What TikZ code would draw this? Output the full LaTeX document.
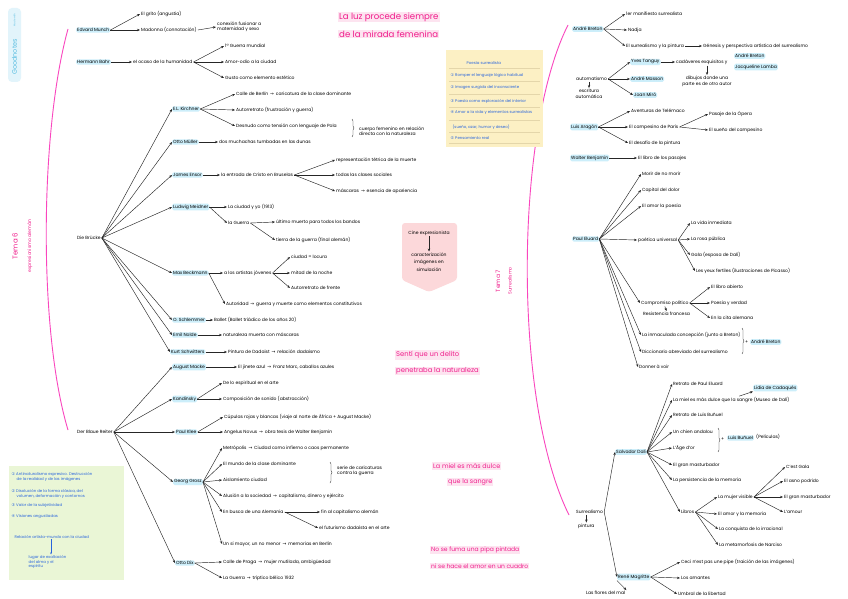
\documentclass[tikz,border=0pt]{standalone}
\usepackage{fontspec}
\setmainfont{Poppins}
\newfontfamily\symf{DejaVu Sans}
\usetikzlibrary{arrows.meta,decorations.pathreplacing}

\definecolor{hlblue}{RGB}{204,238,250}
\definecolor{pinkt}{RGB}{240,30,140}
\definecolor{pinkln}{RGB}{250,70,190}
\definecolor{pinkhl}{RGB}{253,228,240}
\definecolor{notebl}{RGB}{40,100,220}
\definecolor{yellowbox}{RGB}{252,240,196}
\definecolor{greenbox}{RGB}{234,246,214}
\definecolor{pinkbox}{RGB}{252,216,218}
\definecolor{goodbl}{RGB}{90,190,225}
\definecolor{goodbg}{RGB}{226,244,251}
\definecolor{ruleln}{RGB}{228,214,170}

\newcommand{\fs}{\fontsize{4.5}{5.5}\selectfont}
\newcommand{\tto}{{\symf\,→\,}}
\newcommand{\cn}[1]{{\symf #1}}

\tikzset{
  txt/.style={font=\fs, anchor=west, inner sep=1pt, align=left},
  hl/.style={txt, fill=hlblue, rounded corners=1.5pt},
  arr/.style={-{Stealth[length=3pt,width=2.4pt]}, black!85, line width=.45pt},
  quote/.style={text=pinkt, fill=pinkhl, anchor=west, inner sep=1pt},
  note/.style={font=\fontsize{3.9}{4.8}\selectfont, text=notebl, anchor=west, inner sep=.5pt, align=left},
  brc/.style={decorate, decoration={brace, amplitude=2pt}, black!85, line width=.4pt},
  tema/.style={text=pinkt, rotate=90, inner sep=0pt}
}

\begin{document}
\begin{tikzpicture}[x=1pt,y=-1pt]
\useasboundingbox (0,0) rectangle (848,599);
\fill[white] (0,0) rectangle (848,599);

% goodnotes badge
\fill[goodbg, rounded corners=4pt] (8,8) rectangle (21,82);
\node[rotate=90, text=goodbl, font=\fontsize{2.4}{3}\selectfont] (madewith) at (14.5,20) {Made with};
\node[rotate=90, text=goodbl, font=\fontsize{6.5}{7}\selectfont] (goodn) at (14.5,57) {Goodnotes};

% the two themes
\draw[pinkln, line width=.9pt] (68,29) .. controls (40,130) and (38,330) .. (68,430);
\draw[pinkln, line width=.9pt] (568,25) .. controls (515,130) and (512,400) .. (569,515);
\node[tema, font=\fontsize{7}{8}\selectfont] (tema6) at (15,246) {Tema 6};
\node[tema, font=\fontsize{4.6}{5}\selectfont] (expr) at (30,246) {expresionismo alemán};
\node[tema, font=\fontsize{6}{7}\selectfont] (tema7) at (498,281) {Tema 7};
\node[tema, font=\fontsize{4.6}{5}\selectfont] (surrt) at (510,281) {Surrealismo};

% quotes
\node[quote, font=\fontsize{8.6}{9}\selectfont] (luz1) at (338,17) {La luz procede siempre};
\node[quote, font=\fontsize{8.6}{9}\selectfont] (luz2) at (338,34) {de la mirada femenina};
\node[quote, font=\fontsize{6.8}{8}\selectfont] (delito1) at (395,355) {Sentí que un delito};
\node[quote, font=\fontsize{6.8}{8}\selectfont] (delito2) at (395,371) {penetraba la naturaleza};
\node[quote, font=\fontsize{6.4}{8}\selectfont] (miel1) at (432,466) {La miel es más dulce};
\node[quote, font=\fontsize{6.4}{8}\selectfont] (miel2) at (447,482) {que la sangre};
\node[quote, font=\fontsize{6}{7}\selectfont] (pipa1) at (430,550) {No se fuma una pipa pintada};
\node[quote, font=\fontsize{6}{7}\selectfont] (pipa2) at (430,566) {ni se hace el amor en un cuadro};

% Tema 6: Munch and Bahr
\node[hl] (munch) at (76,30) {Edvard Munch};
\node[txt] (grito) at (140,14) {El grito (angustia)};
\node[txt] (madonna) at (140,30) {Madonna (connotación)};
\node[txt] (madonna2) at (216,27) {conexión fusionar a\\maternidad y sexo};
\draw[arr] (munch.east) -- (grito.west);
\draw[arr] (munch.east) -- (madonna.west);
\draw[arr] (madonna.east) -- (madonna2.west);

\node[hl] (bahr) at (76,62) {Hermann Bahr};
\node[txt] (ocaso) at (132,62) {el ocaso de la humanidad};
\node[txt] (guerra1) at (224,46) {1ª Guerra mundial};
\node[txt] (odio) at (224,62) {Amor-odio a la ciudad};
\node[txt] (gusto) at (224,78) {Gusto como elemento estético};
\draw[arr] (bahr.east) -- (ocaso.west);
\foreach \c in {guerra1,odio,gusto} \draw[arr] (ocaso.east) -- (\c.west);

% Die Brücke
\node[txt] (brucke) at (76,238) {Die Brücke};
\node[hl] (kirchner) at (172,109) {E.L. Kirchner};
\node[hl] (muller) at (172,142) {Otto Müller};
\node[hl] (ensor) at (172,175) {James Ensor};
\node[hl] (grosz) at (172,207) {Ludwig Meidner};
\node[hl] (gert) at (172,273) {Max Beckmann};
\node[hl] (schlemmer) at (172,320) {O. Schlemmer};
\node[hl] (nolde) at (172,335) {Emil Nolde};
\node[hl] (schwitters) at (170,352) {Kurt Schwitters};
\foreach \c in {kirchner,muller,ensor,grosz,gert,schlemmer,nolde,schwitters}
  \draw[arr] (brucke.east) -- (\c.west);

\node[txt] (berlin) at (235,94) {Calle de Berlín \tto{} caricatura de la clase dominante};
\node[txt] (autorr) at (235,110) {Autorretrato (frustración y guerra)};
\node[txt] (desnudo) at (235,126) {Desnudo como tensión con lenguaje de Pola};
\foreach \c in {berlin,autorr,desnudo} \draw[arr] (kirchner.east) -- (\c.west);
\draw[brc] (352,119) -- (352,137);
\node[txt] (cuerpo) at (358,131) {cuerpo femenino en relación\\directa con la naturaleza};

\node[txt] (dunas) at (218,142) {dos muchachas tumbadas en las dunas};
\draw[arr] (muller.east) -- (dunas.west);

\node[txt] (cristo) at (220,175) {la entrada de Cristo en Bruselas};
\node[txt] (muerte) at (335,160) {representación tétrica de la muerte};
\node[txt] (clases) at (335,175) {todas las clases sociales};
\node[txt] (mascaras) at (335,191) {máscaras \tto{} esencia de apariencia};
\draw[arr] (ensor.east) -- (cristo.west);
\foreach \c in {muerte,clases,mascaras} \draw[arr] (cristo.east) -- (\c.west);

\node[txt] (ciudadyo) at (227,207) {La ciudad y yo (1913)};
\node[txt] (laguerra) at (227,223) {la Guerra};
\node[txt] (ultimo) at (275,222) {último muerto para todos los bandos};
\node[txt] (tierra) at (275,240) {tierra de la guerra (final alemán)};
\draw[arr] (grosz.east) -- (ciudadyo.west);
\draw[arr] (grosz.east) -- (laguerra.west);
\draw[arr] (laguerra.east) -- (ultimo.west);
\draw[arr] (laguerra.east) -- (tierra.west);

\node[txt] (artistas) at (223,273) {a los artistas jóvenes};
\node[txt] (locura) at (290,257) {ciudad = locura};
\node[txt] (noche) at (290,273) {mitad de la noche};
\node[txt] (autorn) at (290,288) {Autorretrato de frente};
\node[txt] (autoridad) at (225,304) {Autoridad \tto{} guerra y muerte como elementos constitutivos};
\draw[arr] (gert.east) -- (artistas.west);
\draw[arr] (gert.east) -- (autoridad.west);
\foreach \c in {locura,noche,autorn} \draw[arr] (artistas.east) -- (\c.west);

\node[txt] (ballet) at (213,320) {Ballet (Ballet triádico de los años 20)};
\node[txt] (nmuerta) at (222,335) {naturaleza muerta con máscaras};
\node[txt] (dada) at (227,352) {Pintura de Dadaist \tto{} relación dadaísmo};
\draw[arr] (schlemmer.east) -- (ballet.west);
\draw[arr] (nolde.east) -- (nmuerta.west);
\draw[arr] (schwitters.east) -- (dada.west);

% pink pentagon
\fill[pinkbox, rounded corners=3pt] (402,223) -- (457,223) -- (457,280) -- (429,292) -- (402,280) -- cycle;
\node[font=\fs, inner sep=1pt] (cine) at (429,233) {Cine expresionista};
\node[font=\fs, inner sep=1pt, align=center] (carac) at (429,262) {caracterización\\[2pt]imágenes en\\[2pt]simulación};
\draw[arr] (cine.south) -- (carac.north);

% Der Blaue Reiter
\node[txt] (reiter) at (76,432) {Der Blaue Reiter};
\node[hl] (marc) at (172,367) {August Macke};
\node[hl] (kandinsky) at (172,399) {Kandinsky};
\node[hl] (klee) at (175,432) {Paul Klee};
\node[hl] (grosz2) at (173,482) {Georg Grosz};
\node[hl] (dix) at (175,563) {Otto Dix};
\foreach \c in {marc,kandinsky,klee,grosz2,dix} \draw[arr] (reiter.east) -- (\c.west);

\node[txt] (jinete) at (237,367) {El jinete azul \tto{} Franz Marc, caballos azules};
\draw[arr] (marc.east) -- (jinete.west);
\node[txt] (espiritual) at (222,383) {De lo espiritual en el arte};
\node[txt] (composicion) at (222,399) {Composición de sonido (abstracción)};
\draw[arr] (kandinsky.east) -- (espiritual.west);
\draw[arr] (kandinsky.east) -- (composicion.west);
\node[txt] (cupulas) at (223,417) {Cúpulas rojas y blancas (viaje al norte de África + August Macke)};
\node[txt] (angelus) at (223,432) {Angelus Novus \tto{} obra tesis de Walter Benjamin};
\draw[arr] (klee.east) -- (cupulas.west);
\draw[arr] (klee.east) -- (angelus.west);

\node[txt] (metropolis) at (222,448) {Metrópolis \tto{} Ciudad como infierno o caos permanente};
\node[txt] (mundo) at (222,464) {El mundo de la clase dominante};
\node[txt] (aisla) at (222,480) {Aislamiento ciudad};
\node[txt] (alusion) at (222,496) {Alusión a la sociedad \tto{} capitalismo, dinero y ejército};
\node[txt] (busca) at (222,512) {En busca de una Alemania};
\node[txt] (simayor) at (222,544) {Un sí mayor, un no menor \tto{} memorias en Berlín};
\foreach \c in {metropolis,mundo,aisla,alusion,busca,simayor} \draw[arr] (grosz2.east) -- (\c.west);
\draw[brc] (330,462) -- (330,483);
\node[txt] (serie) at (336,471) {serie de caricaturas\\contra la guerra};
\node[txt] (fin) at (320,512) {fin al capitalismo alemán};
\node[txt] (futur) at (318,528) {el futurismo dadaísta en el arte};
\draw[arr] (busca.east) -- (fin.west);
\draw[arr] (busca.east) -- (futur.west);

\node[txt] (praga) at (222,562) {Calle de Praga \tto{} mujer mutilada, ambigüedad};
\node[txt] (triptico) at (222,578) {La Guerra \tto{} tríptico bélico 1932};
\draw[arr] (dix.east) -- (praga.west);
\draw[arr] (dix.east) -- (triptico.west);

% yellow note: poesia surrealista
\fill[yellowbox] (446,50) rectangle (543,147);
\foreach \y in {68,81,94,107,120,132,143} \draw[ruleln, line width=.3pt] (449,\y) -- (540,\y);
\node[note] (poesia) at (466,63) {Poesía surrealista};
\node[note] (p1) at (450,75) {\cn{①} Romper el lenguaje lógico habitual};
\node[note] (p2) at (450,88) {\cn{②} Imagen surgida del inconsciente};
\node[note] (p3) at (450,101) {\cn{③} Poesía como exploración del interior};
\node[note] (p4) at (450,113) {\cn{④} Amor a la vida y elementos surrealistas};
\node[note] (p4b) at (452,127) {(sueño, azar, humor y deseo)};
\node[note] (p5) at (450,138) {\cn{⑤} Pensamiento real};

% green note
\fill[greenbox] (9,466) rectangle (124,580);
\node[note] (g1) at (11,477) {\cn{①} Antinaturalismo expresivo. Destrucción\\\hspace{5pt}de la realidad y de las imágenes};
\node[note] (g2) at (11,494) {\cn{②} Disolución de la forma clásica, del\\\hspace{5pt}volumen, deformación y contornos};
\node[note] (g3) at (11,506) {\cn{③} Valor de la subjetividad};
\node[note] (g4) at (11,517) {\cn{④} Visiones angustiadas};
\node[note] (g5) at (14,537) {Relación artista-mundo con la ciudad};
\node[note, align=left] (g6) at (28,562) {lugar de exaltación\\del alma y el\\espíritu};
\draw[notebl, -{Stealth[length=2pt,width=1.6pt]}, line width=.35pt] (g5.south -| 51,0) -- (g6.north -| 51,0);

% Tema 7: Breton
\node[hl] (breton) at (572,29) {André Breton};
\node[txt] (manif) at (625,14) {1er manifiesto surrealista};
\node[txt] (nadja) at (627,30) {Nadja};
\node[txt] (pintura) at (625,46) {El surrealismo y la pintura};
\node[txt] (genesis) at (702,46) {Génesis y perspectiva artística del surrealismo};
\foreach \c in {manif,nadja,pintura} \draw[arr] (breton.east) -- (\c.west);
\draw[arr] (pintura.east) -- (genesis.west);

\node[txt] (autom) at (575,79) {automatismo};
\node[txt, align=center, anchor=north] (escrit) at (589,88) {escritura\\automática};
\draw[arr] (autom.south -| escrit.north) -- (escrit.north);
\node[hl] (tanguy) at (630,62) {Yves Tanguy};
\node[hl] (masson) at (630,79) {André Masson};
\node[hl] (miro) at (633,95) {Joan Miró};
\foreach \c in {tanguy,masson,miro} \draw[arr] (autom.east) -- (\c.west);
\node[txt] (cadaver) at (675,62) {cadáveres exquisitos y};
\node[hl] (breton2) at (734,56) {André Breton};
\node[hl] (lamba) at (734,67) {Jacqueline Lamba};
\node[txt, align=center, anchor=north] (dibujos) at (707,75) {dibujos donde una\\parte es de otro autor};
\draw[arr] (tanguy.east) -- (cadaver.west);
\draw[arr] (cadaver.south -| dibujos.north) -- (dibujos.north);

\node[hl] (aragon) at (570,127) {Luis Aragón};
\node[txt] (telemaco) at (630,111) {Aventuras de Telémaco};
\node[txt] (campesino) at (628,127) {El campesino de París};
\node[txt] (desafio) at (628,143) {El desafío de la pintura};
\foreach \c in {telemaco,campesino,desafio} \draw[arr] (aragon.east) -- (\c.west);
\node[txt] (opera) at (708,114) {Pasaje de la Ópera};
\node[txt] (sueno) at (708,130) {El sueño del campesino};
\draw[arr] (campesino.east) -- (opera.west);
\draw[arr] (campesino.east) -- (sueno.west);

\node[hl] (benjamin) at (570,158) {Walter Benjamin};
\node[txt] (pasajes) at (637,158) {El libro de los pasajes};
\draw[arr] (benjamin.east) -- (pasajes.west);

% Eluard
\node[hl] (eluard) at (572,239) {Paul Eluard};
\node[txt] (morir) at (641,174) {Morir de no morir};
\node[txt] (capital) at (641,190) {Capital del dolor};
\node[txt] (amorpo) at (641,206) {El amor la poesía};
\node[txt] (poetica) at (637,240) {poética universal};
\node[txt] (compro) at (640,303) {Compromiso político};
\node[txt] (resist) at (642,314) {Resistencia francesa};
\node[txt] (inmac) at (641,335) {La inmaculada concepción (junto a Breton)};
\node[txt] (dicc) at (641,352) {Diccionario abreviado del surrealismo};
\node[txt] (donner) at (638,367) {Donner à voir};
\foreach \c in {morir,capital,amorpo,poetica,compro,inmac,dicc,donner} \draw[arr] (eluard.east) -- (\c.west);
\draw[arr] (compro.south) -- (resist.north);
\node[txt] (inmediata) at (690,223) {La vida inmediata};
\node[txt] (rosa) at (690,239) {La rosa pública};
\node[txt] (gala) at (690,255) {Gala (esposa de Dalí)};
\node[txt] (yeux) at (695,271) {Les yeux fertiles (ilustraciones de Picasso)};
\foreach \c in {inmediata,rosa,gala,yeux} \draw[arr] (poetica.east) -- (\c.west);
\node[txt] (libro) at (710,287) {El libro abierto};
\node[txt] (verdad) at (710,303) {Poesía y verdad};
\node[txt] (cita) at (710,318) {En la cita alemana};
\foreach \c in {libro,verdad,cita} \draw[arr] (compro.east) -- (\c.west);
\draw[brc] (742,328) -- (742,354);
\node[txt] (plus1) at (744,342) {+};
\node[hl] (breton3) at (750,342) {André Breton};

% Dali and Magritte
\node[txt] (surr) at (575,512) {Surrealismo};
\node[txt] (pint) at (577,526) {pintura};
\draw[arr] (surr.south -| pint.north) -- (pint.north);
\node[hl] (dali) at (615,452) {Salvador Dalí};
\node[hl] (magritte) at (617,577) {René Magritte};
\draw[arr] (surr.east) -- (dali.west);
\draw[arr] (surr.east) -- (magritte.west);

\node[txt] (retrato) at (672,384) {Retrato de Paul Eluard};
\node[txt] (mieldali) at (672,400) {La miel es más dulce que la sangre (Museo de Dalí)};
\node[txt] (rbunuel) at (672,415) {Retrato de Luis Buñuel};
\node[txt] (chien) at (672,432) {Un chien andalou};
\node[txt] (agedor) at (672,448) {L'Âge d'or};
\node[txt] (masturb) at (672,465) {El gran masturbador};
\node[txt] (persist) at (672,480) {La persistencia de la memoria};
\node[txt] (libros) at (680,512) {Libros};
\foreach \c in {retrato,mieldali,rbunuel,chien,agedor,masturb,persist,libros} \draw[arr] (dali.east) -- (\c.west);
\node[hl] (lorca) at (753,388) {Lidia de Cadaqués};
\draw[arr] ([xshift=8pt]mieldali.north) -- (lorca.south west);
\draw[brc] (718,428) -- (718,452);
\node[txt] (plus2) at (720,439) {+};
\node[hl] (bunuel) at (727,438) {Luis Buñuel};
\node[txt] (pelis) at (755,437) {(Películas)};

\node[txt] (visible) at (717,497) {La mujer visible};
\node[txt] (amorm) at (717,514) {El amor y la memoria};
\node[txt] (conquista) at (718,529) {La conquista de lo irracional};
\node[txt] (narciso) at (718,545) {La metamorfosis de Narciso};
\foreach \c in {visible,amorm,conquista,narciso} \draw[arr] (libros.east) -- (\c.west);
\node[txt] (cestgala) at (785,467) {C'est Gala};
\node[txt] (asno) at (783,481) {El asno podrido};
\node[txt] (gmast) at (783,497) {El gran masturbador};
\node[txt] (lamour) at (783,512) {L'amour};
\foreach \c in {cestgala,asno,gmast,lamour} \draw[arr] (visible.east) -- (\c.west);

\node[txt] (pipe) at (680,562) {Ceci n'est pas une pipe (traición de las imágenes)};
\node[txt] (amantes) at (680,578) {Los amantes};
\node[txt] (umbral) at (677,594) {Umbral de la libertad};
\foreach \c in {pipe,amantes,umbral} \draw[arr] (magritte.east) -- (\c.west);
\node[txt] (flores) at (585,593) {Las flores del mal};
\draw[arr] (magritte.south west) -- (flores.north east);
\end{tikzpicture}
\end{document}
